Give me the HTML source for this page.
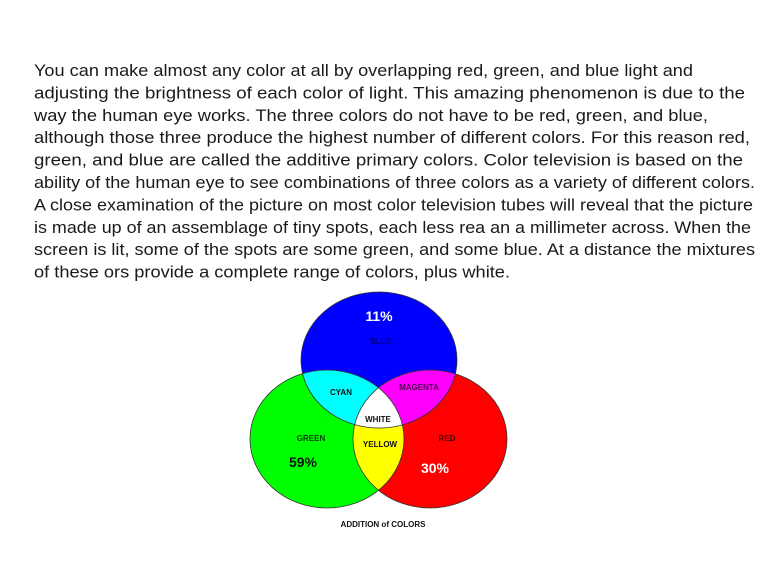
<!DOCTYPE html>
<html><head><meta charset="utf-8"><style>
html,body{margin:0;padding:0;background:#fff;width:768px;height:561px;overflow:hidden}
svg{display:block}
.t{font-family:"Liberation Sans",Arial,sans-serif;font-size:17px;fill:#1a1a1a}
.l{font-family:"Liberation Sans",Arial,sans-serif;font-size:8px;fill:#111;text-anchor:middle;font-weight:bold}
</style></head><body>
<svg width="768" height="561" viewBox="0 0 768 561" xmlns="http://www.w3.org/2000/svg">
<text class="t" x="34" y="76" textLength="659" lengthAdjust="spacingAndGlyphs">You can make almost any color at all by overlapping red, green, and blue light and</text>
<text class="t" x="34" y="98.4" textLength="711" lengthAdjust="spacingAndGlyphs">adjusting the brightness of each color of light. This amazing phenomenon is due to the</text>
<text class="t" x="34" y="120.8" textLength="674" lengthAdjust="spacingAndGlyphs">way the human eye works. The three colors do not have to be red, green, and blue,</text>
<text class="t" x="34" y="143.2" textLength="716" lengthAdjust="spacingAndGlyphs">although those three produce the highest number of different colors. For this reason red,</text>
<text class="t" x="34" y="165.6" textLength="709" lengthAdjust="spacingAndGlyphs">green, and blue are called the additive primary colors. Color television is based on the</text>
<text class="t" x="34" y="188" textLength="721" lengthAdjust="spacingAndGlyphs">ability of the human eye to see combinations of three colors as a variety of different colors.</text>
<text class="t" x="34" y="210.4" textLength="719" lengthAdjust="spacingAndGlyphs">A close examination of the picture on most color television tubes will reveal that the picture</text>
<text class="t" x="34" y="232.8" textLength="717" lengthAdjust="spacingAndGlyphs">is made up of an assemblage of tiny spots, each less rea an a millimeter across. When the</text>
<text class="t" x="34" y="255.2" textLength="721" lengthAdjust="spacingAndGlyphs">screen is lit, some of the spots are some green, and some blue. At a distance the mixtures</text>
<text class="t" x="34" y="277.6" textLength="476" lengthAdjust="spacingAndGlyphs">of these ors provide a complete range of colors, plus white.</text>
<defs>
<clipPath id="cb"><ellipse cx="379" cy="360" rx="78" ry="68"/></clipPath>
<clipPath id="cg"><ellipse cx="327" cy="439" rx="77" ry="69"/></clipPath>
</defs>
<ellipse cx="379" cy="360" rx="78" ry="68" fill="#0000ff"/>
<ellipse cx="327" cy="439" rx="77" ry="69" fill="#00ff00"/>
<ellipse cx="430" cy="439" rx="77" ry="69" fill="#ff0000"/>
<ellipse cx="327" cy="439" rx="77" ry="69" fill="#00ffff" clip-path="url(#cb)"/>
<ellipse cx="430" cy="439" rx="77" ry="69" fill="#ff00ff" clip-path="url(#cb)"/>
<ellipse cx="430" cy="439" rx="77" ry="69" fill="#ffff00" clip-path="url(#cg)"/>
<g clip-path="url(#cb)"><ellipse cx="430" cy="439" rx="77" ry="69" fill="#fff" clip-path="url(#cg)"/></g>
<g fill="none" stroke="#333" stroke-width="0.8">
<ellipse cx="379" cy="360" rx="78" ry="68"/>
<ellipse cx="327" cy="439" rx="77" ry="69"/>
<ellipse cx="430" cy="439" rx="77" ry="69"/>
</g>
<text x="379" y="321" text-anchor="middle" font-family="Liberation Sans,Arial,sans-serif" font-size="14" font-weight="bold" fill="#fff">11%</text>
<text class="l" x="381" y="344" style="fill:#000080">BLUE</text>
<text class="l" x="341" y="395">CYAN</text>
<text class="l" x="419" y="390" style="fill:#500050">MAGENTA</text>
<text class="l" x="378" y="422">WHITE</text>
<text class="l" x="311" y="441" style="fill:#004000">GREEN</text>
<text class="l" x="380" y="447">YELLOW</text>
<text class="l" x="447" y="441" style="fill:#500000">RED</text>
<text x="303" y="467" text-anchor="middle" font-family="Liberation Sans,Arial,sans-serif" font-size="14" font-weight="bold" fill="#111">59%</text>
<text x="435" y="473" text-anchor="middle" font-family="Liberation Sans,Arial,sans-serif" font-size="14" font-weight="bold" fill="#fff">30%</text>
<text class="l" x="383" y="527">ADDITION of COLORS</text>
</svg>
</body></html>
